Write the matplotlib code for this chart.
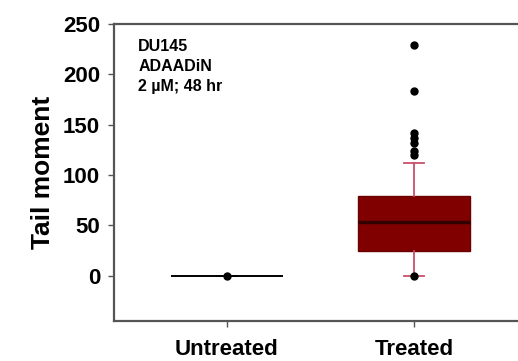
import matplotlib.pyplot as plt

plt.rcParams['font.family'] = ['Liberation Sans', 'DejaVu Sans']
plt.rcParams['font.weight'] = 'bold'

groups = ['Untreated', 'Treated']
q1 = [0, 24]
medians = [0, 53]
q3 = [0, 79]
whisker_low = [0, 0]
whisker_high = [0, 112]
outliers = [[0], [0, 120, 124, 132, 137, 142, 183, 229]]
y_ticks = [0, 50, 100, 150, 200, 250]
note = 'DU145\nADAADiN\n2 µM; 48 hr'

stats = []
for i, g in enumerate(groups):
    stats.append({
        'label': g, 'q1': q1[i], 'med': medians[i], 'q3': q3[i],
        'whislo': whisker_low[i], 'whishi': whisker_high[i],
        'fliers': outliers[i],
    })

fig = plt.figure(figsize=(5.18, 3.61), dpi=100)
ax = fig.add_axes([0.220, 0.111, 0.78, 0.823])

bp = ax.bxp(stats, positions=[1, 2], widths=0.6, patch_artist=True,
            showcaps=True, showfliers=True, capwidths=0.11)

# untreated: everything collapses onto zero
bp['boxes'][0].set(facecolor='black', edgecolor='black', linewidth=1.2)
bp['medians'][0].set(color='black', linewidth=1.2)
bp['boxes'][1].set(facecolor='#800000', edgecolor='#6a0000', linewidth=1)
bp['medians'][1].set(color='#330000', linewidth=2.5)
for i, c in enumerate(['black', 'black', '#c8506a', '#c8506a']):
    bp['whiskers'][i].set(color=c, linewidth=1.3)
    bp['caps'][i].set(color=c, linewidth=1.3)
for f in bp['fliers']:
    f.set(marker='o', markerfacecolor='black', markeredgecolor='black',
          markersize=5)

ax.set_xlim(0.396, 2.556)
ax.set_ylim(-45, 250)
ax.set_yticks(y_ticks)
ax.set_xticks([1, 2])
ax.set_xticklabels(groups)
ax.set_ylabel('Tail moment', fontsize=19, fontweight='bold', labelpad=6)

ax.tick_params(axis='y', labelsize=16, direction='out', length=4, width=1,
               colors='#555555', labelcolor='black', pad=6)
ax.tick_params(axis='x', labelsize=16, direction='out', length=4, width=1,
               colors='#555555', labelcolor='black', pad=9)
for lbl in ax.get_xticklabels() + ax.get_yticklabels():
    lbl.set_fontweight('bold')

for s in ['left', 'top', 'bottom']:
    ax.spines[s].set_color('#555555')
    ax.spines[s].set_linewidth(1.6)
ax.spines['right'].set_visible(False)

ax.text(0.06, 0.95, note, transform=ax.transAxes, fontsize=11.5,
        fontweight='bold', va='top', ha='left', linespacing=1.45)

fig.savefig('out.png', dpi=100)
